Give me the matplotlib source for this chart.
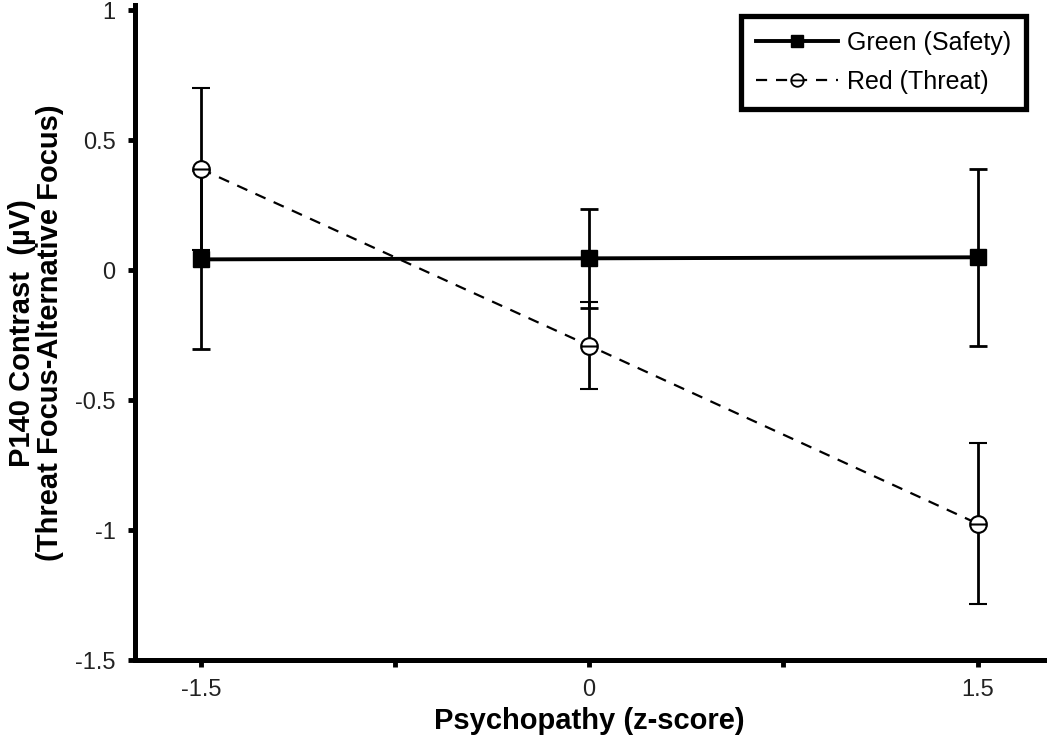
import numpy as np
import matplotlib
matplotlib.use('Agg')
import matplotlib.pyplot as plt
from matplotlib.path import Path
from matplotlib.lines import Line2D

plt.rcParams['font.family'] = ['Liberation Sans', 'DejaVu Sans']

x = [-1.5, 0, 1.5]
green = [0.042, 0.046, 0.05]
green_err = [0.345, 0.19, 0.34]
red = [0.39, -0.29, -0.975]
red_err = [0.31, 0.168, 0.31]
xtick_pos = [-1.5, -0.75, 0, 0.75, 1.5]
xtick_lab = ['-1.5', '', '0', '', '1.5']
ytick_pos = [-1.5, -1, -0.5, 0, 0.5, 1]
ytick_lab = ['-1.5', '-1', '-0.5', '0', '0.5', '1']

# circle with a bar through it
theta = Path.make_compound_path(Path.unit_circle(),
                                Path([[-1, 0], [1, 0]], [Path.MOVETO, Path.LINETO]))

fig = plt.figure(figsize=(10.5, 7.44), dpi=100)
ax = fig.add_axes([0.1286, 0.1129, 0.866, 0.880])

ax.errorbar(x, green, yerr=green_err, color='black', lw=2.8, marker='s', ms=11,
            elinewidth=2.0, capsize=6.5, capthick=2.0, zorder=3)
ax.errorbar(x, red, yerr=red_err, color='black', lw=1.6, ls=(0, (5, 4)), marker=theta,
            ms=12, mfc='white', mew=1.5, elinewidth=2.0, capsize=6.5, capthick=2.0,
            zorder=4)

ax.set_xlim(-1.754, 1.758)
ax.set_ylim(-1.5, 1.02)
ax.set_xticks(xtick_pos)
ax.set_xticklabels(xtick_lab)
ax.set_yticks(ytick_pos)
ax.set_yticklabels(ytick_lab)
ax.tick_params(axis='both', direction='out', length=5, width=3.5, labelsize=17,
               labelcolor='#222222', pad=9)

for s in ['top', 'right']:
    ax.spines[s].set_visible(False)
for s in ['left', 'bottom']:
    ax.spines[s].set_linewidth(3.6)

ax.set_xlabel('Psychopathy (z-score)', fontsize=21, fontweight='bold', labelpad=4)
ax.set_ylabel('P140 Contrast  (\u00b5V)\n(Threat Focus-Alternative Focus)', fontsize=21,
              fontweight='bold', labelpad=8, linespacing=1.0)

h1 = Line2D([], [], color='black', lw=2.8, marker='s', ms=9)
h2 = Line2D([], [], color='black', lw=1.6, ls=(0, (5, 4)), marker=theta, ms=9,
            mfc='white', mew=1.3)
leg = ax.legend([h1, h2], ['Green (Safety)', 'Red (Threat)'], loc='upper right',
                bbox_to_anchor=(0.988, 0.995), fontsize=18, fancybox=False,
                framealpha=1, edgecolor='black', handlelength=3.3,
                borderpad=0.6, labelspacing=0.6, handletextpad=0.35,
                borderaxespad=0.3)
leg.get_frame().set_linewidth(3.8)

plt.savefig('out.png', dpi=100)
plt.close()
